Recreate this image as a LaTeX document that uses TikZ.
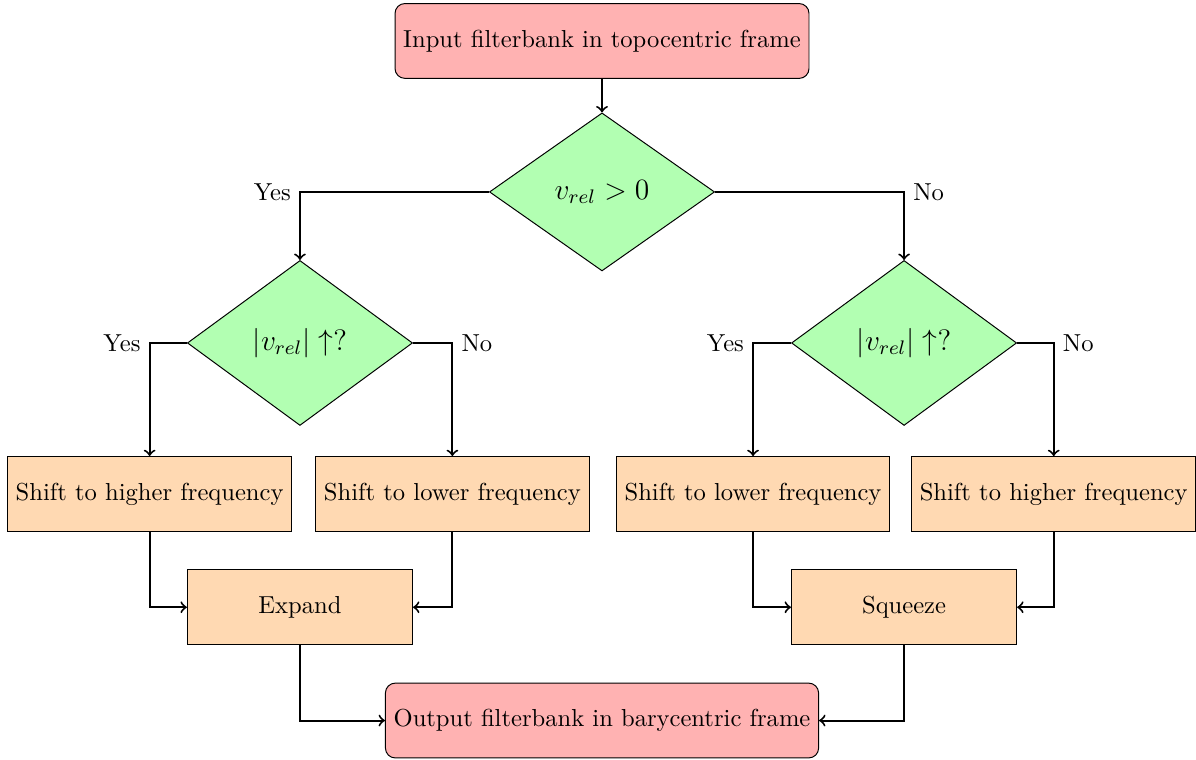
\documentclass[tikz,border=0pt]{standalone}
\usepackage{amsmath}
\usetikzlibrary{positioning,shapes.geometric,calc}
\tikzset{
  % start/end terminator
  term/.style = {rectangle, rounded corners=4pt, draw=black, fill=red!30,
                 align=center, minimum height=1.07cm},
  % process box
  proc/.style = {rectangle, draw=black, fill=orange!30, align=center,
                 minimum height=1.07cm, minimum width=3.22cm},
  % decision diamond
  dec/.style  = {diamond, draw=black, fill=green!30, align=center,
                 inner sep=0pt, minimum width=3.22cm, minimum height=2.26cm,
                 font=\large},
  % arrows
  flow/.style = {->, thick, black},
}
\begin{document}
\begin{tikzpicture}
  \useasboundingbox (0,0) rectangle (17.105,-10.865);

  % --- input + first decision ---
  \node[term] (in) at (8.61,-0.586) {Input filterbank in topocentric frame};
  \node[dec, below=4.8mm of in] (vpos) {$v_{rel} > 0$};
  \draw[flow] (in) -- (vpos);

  % --- second decisions (one per sign of v_rel) ---
  \node[dec, minimum height=2.36cm] (incL) at ($(vpos)+(-4.32,-2.16)$) {$|v_{rel}| \uparrow$?};
  \node[dec, minimum height=2.36cm] (incR) at ($(vpos)+(4.32,-2.16)$) {$|v_{rel}| \uparrow$?};
  \draw[flow] (vpos.west) -| node[left] {Yes} (incL.north);
  \draw[flow] (vpos.east) -| node[right] {No} (incR.north);

  % --- frequency shifts ---
  \node[proc] (hiL) at ($(incL)+(-2.15,-2.16)$) {Shift to higher frequency};
  \node[proc] (loL) at ($(incL)+(2.18,-2.16)$) {Shift to lower frequency};
  \node[proc] (loR) at ($(incR)+(-2.16,-2.16)$) {Shift to lower frequency};
  \node[proc] (hiR) at ($(incR)+(2.14,-2.16)$) {Shift to higher frequency};

  \draw[flow] (incL.west) -| node[left] {Yes} (hiL.north);
  \draw[flow] (incL.east) -| node[right] {No} (loL.north);
  \draw[flow] (incR.west) -| node[left] {Yes} (loR.north);
  \draw[flow] (incR.east) -| node[right] {No} (hiR.north);

  % --- expand / squeeze ---
  \node[proc] (expand) at ($(incL)+(0,-3.78)$) {Expand};
  \node[proc] (squeeze) at ($(incR)+(0,-3.78)$) {Squeeze};

  \draw[flow] (hiL.south) |- (expand.west);
  \draw[flow] (loL.south) |- (expand.east);
  \draw[flow] (loR.south) |- (squeeze.west);
  \draw[flow] (hiR.south) |- (squeeze.east);

  % --- output ---
  \node[term] (out) at ($(vpos)+(0,-7.56)$) {Output filterbank in barycentric frame};
  \draw[flow] (expand.south) |- (out.west);
  \draw[flow] (squeeze.south) |- (out.east);

\end{tikzpicture}
\end{document}
